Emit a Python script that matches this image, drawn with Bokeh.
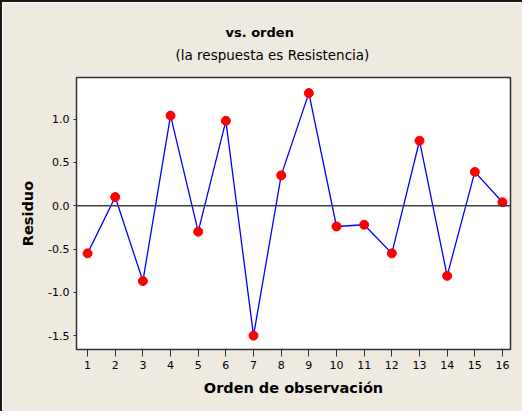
from bokeh.plotting import figure
from bokeh.models import Span, Title, FixedTicker, ColumnDataSource, CustomJSTickFormatter
from bokeh.embed import file_html
from bokeh.resources import INLINE

orden = list(range(1, 17))
residuo = [-0.55, 0.10, -0.87, 1.04, -0.30, 0.98, -1.50, 0.35,
           1.30, -0.24, -0.22, -0.55, 0.75, -0.81, 0.39, 0.04]
y_ticks = [-1.5, -1.0, -0.5, 0.0, 0.5, 1.0]
titulo = "vs. orden"
subtitulo = "(la respuesta es Resistencia)"

BG = "#EEEAE0"
src = ColumnDataSource(dict(x=orden, y=residuo))

p = figure(width=522, height=411, output_backend="svg", toolbar_location=None,
           x_range=(0.6, 16.29), y_range=(-1.66, 1.48),
           min_border_left=74, min_border_right=14, min_border_top=75, min_border_bottom=64)
p.background_fill_color = "white"
p.border_fill_color = BG
p.outline_line_color = "#303030"
p.outline_line_width = 1.5
p.grid.visible = False

sub = Title(text=subtitulo, align="left", text_font="DejaVu Sans",
            text_font_size="13.5px", text_font_style="normal", text_color="#000000",
            offset=99, standoff=29)
main = Title(text=titulo, align="left", text_font="DejaVu Sans",
             text_font_size="13px", text_font_style="bold", text_color="#000000",
             offset=149, standoff=-19)
p.add_layout(sub, "above")
p.add_layout(main, "above")

p.add_layout(Span(location=0, dimension="width", line_color="#404040", line_width=1.5))
p.line("x", "y", source=src, line_color="#0000FF", line_width=1.3)
p.scatter("x", "y", source=src, size=9, fill_color="#FF0000", line_color="#FF0000")

p.xaxis.ticker = FixedTicker(ticks=orden)
p.yaxis.ticker = FixedTicker(ticks=y_ticks)
p.yaxis.formatter = CustomJSTickFormatter(code="return tick.toFixed(1);")
for ax in (p.xaxis[0], p.yaxis[0]):
    ax.axis_line_color = "#303030"
    ax.major_tick_line_color = "#303030"
    ax.minor_tick_line_color = None
    ax.major_tick_in = 0
    ax.major_label_text_font = "DejaVu Sans"
    ax.major_label_text_font_size = "11px"
    ax.major_label_text_color = "#000000"
    ax.axis_label_text_font = "DejaVu Sans"
    ax.axis_label_text_font_style = "bold"
    ax.axis_label_text_font_size = "14.5px"
    ax.axis_label_text_color = "#000000"
p.xaxis.major_tick_out = 7
p.yaxis.major_tick_out = 3
p.xaxis.major_label_standoff = 4
p.yaxis.major_label_standoff = 4
p.xaxis.axis_label = "Orden de observación"
p.yaxis.axis_label = "Residuo"
p.xaxis.axis_label_standoff = 8
p.yaxis.axis_label_standoff = 9
p.styles = {"border-left": "2px solid #1a1a1a", "border-top": "2px solid #1a1a1a"}

open("out.html", "w").write(file_html(p, INLINE))
